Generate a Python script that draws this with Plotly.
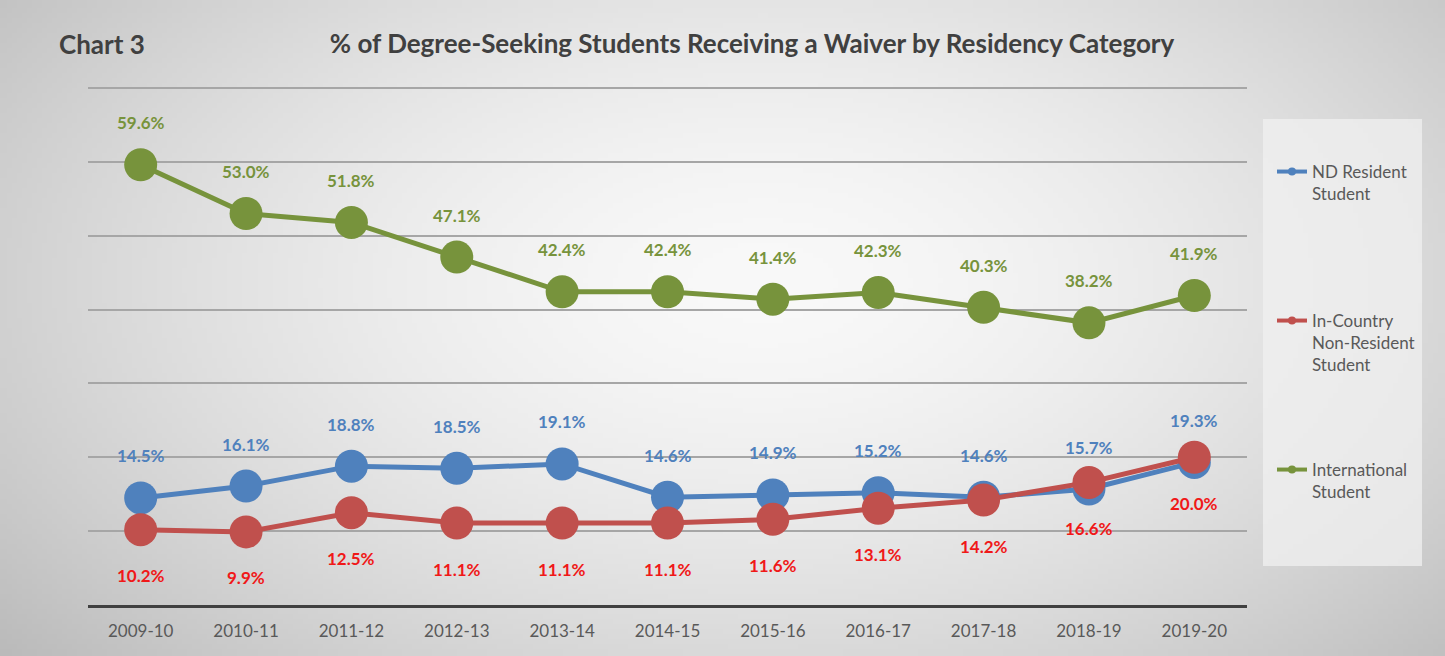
import base64, struct, zlib
import numpy as np
import plotly.graph_objects as go

# ---------------- data ----------------
years = ["2009-10", "2010-11", "2011-12", "2012-13", "2013-14", "2014-15",
         "2015-16", "2016-17", "2017-18", "2018-19", "2019-20"]
nd_resident = [14.5, 16.1, 18.8, 18.5, 19.1, 14.6, 14.9, 15.2, 14.6, 15.7, 19.3]
in_country = [10.2, 9.9, 12.5, 11.1, 11.1, 11.1, 11.6, 13.1, 14.2, 16.6, 20.0]
international = [59.6, 53.0, 51.8, 47.1, 42.4, 42.4, 41.4, 42.3, 40.3, 38.2, 41.9]
series_names = ["ND Resident<br>Student", "In-Country<br>Non-Resident<br>Student",
                "International<br>Student"]

# ---------------- style ----------------
W, H = 1445, 656
L, R, T, B = 88, 198, 85, 51
PW, PH = W - L - R, H - T - B
FONT = "Lato"
line_colors = ["#4F81BD", "#C0504D", "#77933C"]
label_colors = ["#4F81BD", "#F01818", "#77933C"]
label_shift = [42, -46, 42]


def px_x(px):
    return (px - L) / PW


def px_y(py):
    return (H - B - py) / PH


def png_uri(arr):
    h, w, _ = arr.shape
    raw = b"".join(b"\x00" + arr[i].tobytes() for i in range(h))

    def chunk(tag, data):
        c = struct.pack(">I", len(data)) + tag + data
        return c + struct.pack(">I", zlib.crc32(tag + data) & 0xffffffff)

    png = b"\x89PNG\r\n\x1a\n" + chunk(b"IHDR", struct.pack(">IIBBBBB", w, h, 8, 2, 0, 0, 0)) \
        + chunk(b"IDAT", zlib.compress(raw, 9)) + chunk(b"IEND", b"")
    return "data:image/png;base64," + base64.b64encode(png).decode()


# radial background gradient
gw, gh = 289, 131
yy, xx = np.mgrid[0:gh, 0:gw]
d = np.sqrt(((xx / gw * W - 760) / 760.0) ** 2 + ((yy / gh * H - 280) / 430.0) ** 2)
val = np.clip(249 - 40 * d ** 1.6, 185, 255).astype(np.uint8)
bg = np.stack([val, val, val], axis=-1)

fig = go.Figure()
all_series = [nd_resident, in_country, international]
for i, vals in enumerate(all_series):
    fig.add_trace(go.Scatter(
        x=years, y=vals, mode="lines+markers", showlegend=False,
        line=dict(color=line_colors[i], width=5),
        marker=dict(color=line_colors[i], size=33, line=dict(width=0)),
        hoverinfo="skip"))
    for x, v in zip(years, vals):
        fig.add_annotation(x=x, y=v, text=f"{v:.1f}%", showarrow=False,
                           yshift=label_shift[i],
                           font=dict(family=FONT, size=17, color=label_colors[i], weight="bold"))

# legend entries (one legend each, to match the spacing of the original)
legend_tops = [154, 303, 452]
for i in range(3):
    lg = "legend" if i == 0 else f"legend{i + 1}"
    fig.add_trace(go.Scatter(
        x=[None], y=[None], mode="lines+markers", name=series_names[i], legend=lg,
        line=dict(color=line_colors[i], width=4),
        marker=dict(color=line_colors[i], size=8)))
    fig.update_layout({lg: dict(
        xref="container", yref="container", x=1272 / W, y=1 - legend_tops[i] / H,
        xanchor="left", yanchor="top", bgcolor="rgba(0,0,0,0)", valign="top",
        font=dict(family=FONT, size=17, color="#595959"))})

# legend box
fig.add_shape(type="rect", xref="paper", yref="paper",
              x0=px_x(1263), x1=px_x(1422), y0=px_y(566), y1=px_y(119),
              fillcolor="rgba(240,240,240,0.75)", line=dict(width=0), layer="below")

fig.add_layout_image(dict(
    source=png_uri(bg), xref="paper", yref="paper",
    x=px_x(0), y=px_y(0), sizex=W / PW, sizey=H / PH,
    xanchor="left", yanchor="top", sizing="stretch", layer="below"))

fig.add_annotation(xref="paper", yref="paper", x=px_x(57), y=px_y(44),
                   xanchor="left", yanchor="middle", showarrow=False, text="Chart 3",
                   font=dict(family=FONT, size=26, color="#404040", weight="bold"))

fig.update_layout(
    width=W, height=H,
    margin=dict(l=L, r=R, t=T, b=B, pad=0),
    paper_bgcolor="#e4e4e4", plot_bgcolor="rgba(0,0,0,0)",
    title=dict(text="% of Degree-Seeking Students Receiving a Waiver by Residency Category",
               x=752 / W, xanchor="center", xref="container",
               y=1 - 44 / H, yanchor="middle", yref="container",
               font=dict(family=FONT, size=26, color="#404040", weight="bold")),
    xaxis=dict(type="category", range=[-0.5, len(years) - 0.5], showgrid=False,
               showline=True, linecolor="#404040", linewidth=3, ticks="",
               tickfont=dict(family=FONT, size=17, color="#595959"),
               ticklabelstandoff=9, fixedrange=True),
    yaxis=dict(range=[0, 70.4], tick0=0, dtick=10, showticklabels=False, showgrid=True,
               gridcolor="#a6a6a6", gridwidth=1.5, zeroline=False, fixedrange=True),
)

fig.write_html("out.html", config={"displayModeBar": False},
               post_script="document.body.style.margin='0';document.body.style.overflow='hidden';")
